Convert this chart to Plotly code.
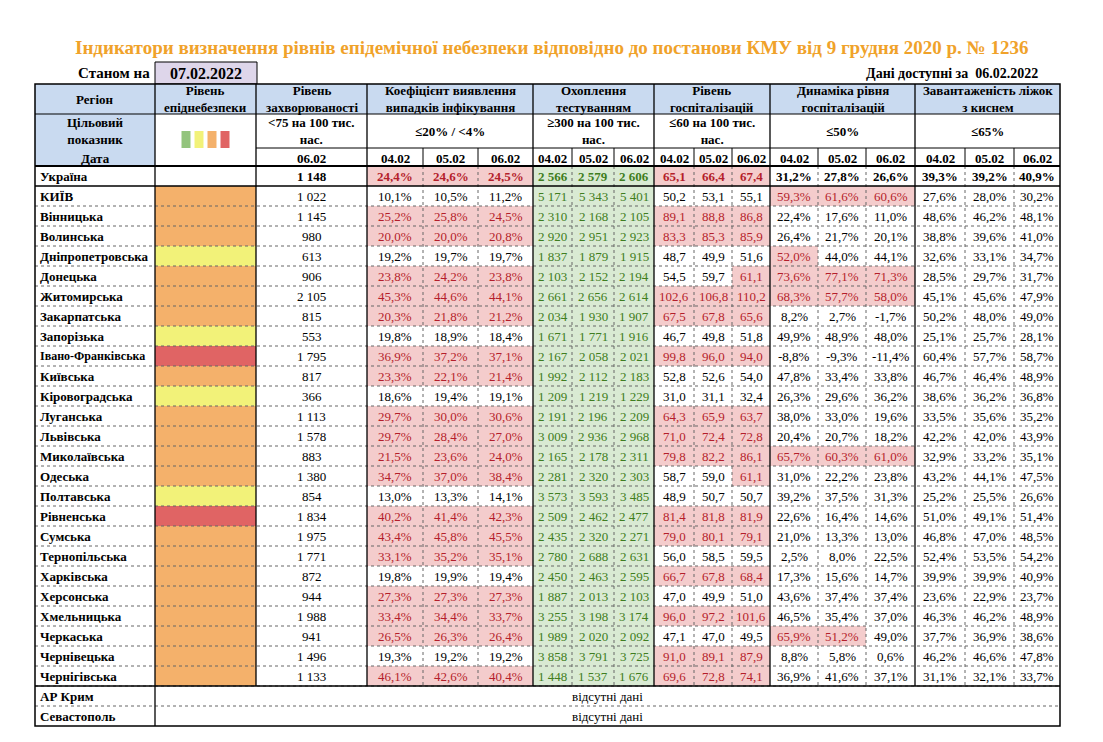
import plotly.graph_objects as go

# ---------------- DATA ----------------
regions = ["Україна", "КИЇВ", "Вінницька", "Волинська", "Дніпропетровська", "Донецька",
           "Житомирська", "Закарпатська", "Запорізька", "Івано-Франківська", "Київська",
           "Кіровоградська", "Луганська", "Львівська", "Миколаївська", "Одеська",
           "Полтавська", "Рівненська", "Сумська", "Тернопільська", "Харківська",
           "Херсонська", "Хмельницька", "Черкаська", "Чернівецька", "Чернігівська"]
danger_level = ["", "orange", "orange", "orange", "yellow", "orange", "orange", "orange",
                "yellow", "red", "orange", "yellow", "orange", "orange", "orange", "orange",
                "yellow", "red", "orange", "orange", "orange", "orange", "orange", "orange",
                "orange", "orange"]
incidence_0602 = [1148, 1022, 1145, 980, 613, 906, 2105, 815, 553, 1795, 817, 366, 1113,
                  1578, 883, 1380, 854, 1834, 1975, 1771, 872, 944, 1988, 941, 1496, 1133]
coef_0402 = [24.4, 10.1, 25.2, 20.0, 19.2, 23.8, 45.3, 20.3, 19.8, 36.9, 23.3, 18.6, 29.7,
             29.7, 21.5, 34.7, 13.0, 40.2, 43.4, 33.1, 19.8, 27.3, 33.4, 26.5, 19.3, 46.1]
coef_0502 = [24.6, 10.5, 25.8, 20.0, 19.7, 24.2, 44.6, 21.8, 18.9, 37.2, 22.1, 19.4, 30.0,
             28.4, 23.6, 37.0, 13.3, 41.4, 45.8, 35.2, 19.9, 27.3, 34.4, 26.3, 19.2, 42.6]
coef_0602 = [24.5, 11.2, 24.5, 20.8, 19.7, 23.8, 44.1, 21.2, 18.4, 37.1, 21.4, 19.1, 30.6,
             27.0, 24.0, 38.4, 14.1, 42.3, 45.5, 35.1, 19.4, 27.3, 33.7, 26.4, 19.2, 40.4]
tests_0402 = [2566, 5171, 2310, 2920, 1837, 2103, 2661, 2034, 1671, 2167, 1992, 1209, 2191,
              3009, 2165, 2281, 3573, 2509, 2435, 2780, 2450, 1887, 3255, 1989, 3858, 1448]
tests_0502 = [2579, 5343, 2168, 2951, 1879, 2152, 2656, 1930, 1771, 2058, 2112, 1219, 2196,
              2936, 2178, 2320, 3593, 2462, 2320, 2688, 2463, 2013, 3198, 2020, 3791, 1537]
tests_0602 = [2606, 5401, 2105, 2923, 1915, 2194, 2614, 1907, 1916, 2021, 2183, 1229, 2209,
              2968, 2311, 2303, 3485, 2477, 2271, 2631, 2595, 2103, 3174, 2092, 3725, 1676]
hosp_0402 = [65.1, 50.2, 89.1, 83.3, 48.7, 54.5, 102.6, 67.5, 46.7, 99.8, 52.8, 31.0, 64.3,
             71.0, 79.8, 58.7, 48.9, 81.4, 79.0, 56.0, 66.7, 47.0, 96.0, 47.1, 91.0, 69.6]
hosp_0502 = [66.4, 53.1, 88.8, 85.3, 49.9, 59.7, 106.8, 67.8, 49.8, 96.0, 52.6, 31.1, 65.9,
             72.4, 82.2, 59.0, 50.7, 81.8, 80.1, 58.5, 67.8, 49.9, 97.2, 47.0, 89.1, 72.8]
hosp_0602 = [67.4, 55.1, 86.8, 85.9, 51.6, 61.1, 110.2, 65.6, 51.8, 94.0, 54.0, 32.4, 63.7,
             72.8, 86.1, 61.1, 50.7, 81.9, 79.1, 59.5, 68.4, 51.0, 101.6, 49.5, 87.9, 74.1]
dyn_0402 = [31.2, 59.3, 22.4, 26.4, 52.0, 73.6, 68.3, 8.2, 49.9, -8.8, 47.8, 26.3, 38.0,
            20.4, 65.7, 31.0, 39.2, 22.6, 21.0, 2.5, 17.3, 43.6, 46.5, 65.9, 8.8, 36.9]
dyn_0502 = [27.8, 61.6, 17.6, 21.7, 44.0, 77.1, 57.7, 2.7, 48.9, -9.3, 33.4, 29.6, 33.0,
            20.7, 60.3, 22.2, 37.5, 16.4, 13.3, 8.0, 15.6, 37.4, 35.4, 51.2, 5.8, 41.6]
dyn_0602 = [26.6, 60.6, 11.0, 20.1, 44.1, 71.3, 58.0, -1.7, 48.0, -11.4, 33.8, 36.2, 19.6,
            18.2, 61.0, 23.8, 31.3, 14.6, 13.0, 22.5, 14.7, 37.4, 37.0, 49.0, 0.6, 37.1]
beds_0402 = [39.3, 27.6, 48.6, 38.8, 32.6, 28.5, 45.1, 50.2, 25.1, 60.4, 46.7, 38.6, 33.5,
             42.2, 32.9, 43.2, 25.2, 51.0, 46.8, 52.4, 39.9, 23.6, 46.3, 37.7, 46.2, 31.1]
beds_0502 = [39.2, 28.0, 46.2, 39.6, 33.1, 29.7, 45.6, 48.0, 25.7, 57.7, 46.4, 36.2, 35.6,
             42.0, 33.2, 44.1, 25.5, 49.1, 47.0, 53.5, 39.9, 22.9, 46.2, 36.9, 46.6, 32.1]
beds_0602 = [40.9, 30.2, 48.1, 41.0, 34.7, 31.7, 47.9, 49.0, 28.1, 58.7, 48.9, 36.8, 35.2,
             43.9, 35.1, 47.5, 26.6, 51.4, 48.5, 54.2, 40.9, 23.7, 48.9, 38.6, 47.8, 33.7]
no_data_regions = ["АР Крим", "Севастополь"]
no_data_text = "відсутні дані"
dates3 = ["04.02", "05.02", "06.02"]
date_single = "06.02"
title_text = "Індикатори визначення рівнів епідемічної небезпеки відповідно до постанови КМУ від 9 грудня 2020 р. № 1236"
as_of_label = "Станом на"
as_of_date = "07.02.2022"
data_for = "Дані доступні за  06.02.2022"
group_headers = ["Коефіцієнт виявлення<br>випадків інфікування", "Охоплення<br>тестуванням",
                 "Рівень<br>госпіталізацій", "Динаміка рівня<br>госпіталізацій",
                 "Завантаженість ліжок<br>з киснем"]
group_targets = ["≤20% / <4%", "≥300 на 100 тис.<br>нас.", "≤60 на 100 тис.<br>нас.", "≤50%", "≤65%"]

# ---------------- STYLE / LAYOUT ----------------
FONT = "Liberation Serif"
W, H = 1103, 742
OFF = 8  # default body margin of the html page
EDGES = [35, 155, 256, 367, 423, 478, 533, 572, 614, 654, 694, 732, 770, 818, 866, 915, 965, 1014, 1060]
Y_TOP, Y_R1, Y_R2, Y_DATE = 84, 114, 148, 166
ROW_H = 20
LEVEL_COLORS = {"green": "#93C47D", "yellow": "#F2F279", "orange": "#F4B16B", "red": "#E06464"}
BLUE = "#C9DAF0"
PINK = "#F4CCCC"
RED_TXT = "#B41E2B"
GREEN_BG = "#D9EAD3"
GREEN_TXT = "#3F7D20"

shapes, anns = [], []


def rect(x0, y0, x1, y1, fill, line=None, lw=0):
    shapes.append(dict(type="rect", xref="x", yref="y", x0=x0, y0=y0, x1=x1, y1=y1,
                       fillcolor=fill, line=dict(width=lw, color=line or fill), layer="below"))


def hline(y, x0, x1, w=1, dash="solid", color="black"):
    shapes.append(dict(type="line", xref="x", yref="y", x0=x0, x1=x1, y0=y, y1=y,
                       line=dict(width=w, dash=dash, color=color)))


def vline(x, y0, y1, w=1, dash="solid", color="black"):
    shapes.append(dict(type="line", xref="x", yref="y", x0=x, x1=x, y0=y0, y1=y1,
                       line=dict(width=w, dash=dash, color=color)))


def txt(x, y, s, size=13, bold=False, color="black", anchor="center"):
    anns.append(dict(x=x, y=y, xref="x", yref="y", text=f"<b>{s}</b>" if bold else s,
                     showarrow=False, font=dict(family=FONT, size=size, color=color),
                     xanchor=anchor, yanchor="middle"))


def cx(i):
    return (EDGES[i] + EDGES[i + 1]) / 2


fmt_int = lambda v: f"{v:,}".replace(",", " ")
fmt_pct = lambda v: f"{v:.1f}".replace(".", ",") + "%"
fmt_dec = lambda v: f"{v:.1f}".replace(".", ",")

# title and header line
txt(W / 2, 47, title_text, size=19, bold=True, color="#F0A22A")
txt(152, 73, as_of_label, size=15, bold=True, anchor="right")
rect(155, 62, 257, Y_TOP, "#DED6EA", "black", 1)
txt(206, 73, as_of_date, size=16, bold=True)
txt(1040, 73, data_for, size=14, bold=True, anchor="right")

# header fills
rect(EDGES[0], Y_TOP, EDGES[-1], Y_R1, BLUE)
rect(EDGES[0], Y_R1, EDGES[1], Y_DATE, BLUE)
txt(cx(0), (Y_TOP + Y_R1) / 2, "Регіон", 13, True)
txt(cx(1), (Y_TOP + Y_R1) / 2, "Рівень<br>епіднебезпеки", 13, True)
txt(cx(2), (Y_TOP + Y_R1) / 2, "Рівень<br>захворюваності", 13, True)
for g in range(5):
    a, b = 3 + 3 * g, 6 + 3 * g
    xm = (EDGES[a] + EDGES[b]) / 2
    txt(xm, (Y_TOP + Y_R1) / 2, group_headers[g], 13, True)
    txt(xm, (Y_R1 + Y_R2) / 2, group_targets[g], 13, True)
    for d in range(3):
        txt(cx(a + d), (Y_R2 + Y_DATE) / 2 + 1, dates3[d], 13, True)
txt(cx(0), 131, "Цільовий<br>показник", 13, True)
txt(cx(0), 158, "Дата", 13, True)
txt(cx(2), (Y_R1 + Y_R2) / 2, "<75 на 100 тис.<br>нас.", 13, True)
txt(cx(2), (Y_R2 + Y_DATE) / 2 + 1, date_single, 13, True)
# legend squares
legend_order = ["green", "yellow", "orange", "red"]
sq_w, sq_gap = 9, 4
tot = 4 * sq_w + 3 * sq_gap
for i, c in enumerate(legend_order):
    x0 = cx(1) - tot / 2 + i * (sq_w + sq_gap)
    rect(x0, 131, x0 + sq_w, 148, LEVEL_COLORS[c])

# body
series = [coef_0402, coef_0502, coef_0602, tests_0402, tests_0502, tests_0602,
          hosp_0402, hosp_0502, hosp_0602, dyn_0402, dyn_0502, dyn_0602,
          beds_0402, beds_0502, beds_0602]
for k, reg in enumerate(regions):
    y0 = Y_DATE + k * ROW_H
    y1 = y0 + ROW_H
    ym = (y0 + y1) / 2
    bold = k == 0
    if danger_level[k]:
        rect(EDGES[1], y0, EDGES[2], y1, LEVEL_COLORS[danger_level[k]])
    rsize = 12 if len(reg) > 16 else 13
    txt(EDGES[0] + 3, ym, reg, rsize, True, anchor="left")
    txt(cx(2), ym, fmt_int(incidence_0602[k]), 13, bold)
    for j, s in enumerate(series):
        v = s[k]
        col = 3 + j
        grp = j // 3
        color = "black"
        if grp == 0:
            label = fmt_pct(v)
            bad = v >= 20
        elif grp == 1:
            label = fmt_int(v)
            bad = False
        elif grp == 2:
            label = fmt_dec(v)
            bad = v > 60
        elif grp == 3:
            label = fmt_pct(v)
            bad = v > 50
        else:
            label = fmt_pct(v)
            bad = v > 65
        if grp == 1:
            rect(EDGES[col], y0, EDGES[col + 1], y1, GREEN_BG)
            color = GREEN_TXT
        elif bad:
            rect(EDGES[col], y0, EDGES[col + 1], y1, PINK)
            color = RED_TXT
        txt(cx(col), ym + 0.5, label, 13, bold, color)

y_body_end = Y_DATE + len(regions) * ROW_H
for i, reg in enumerate(no_data_regions):
    y0 = y_body_end + i * ROW_H
    txt(EDGES[0] + 3, y0 + ROW_H / 2, reg, 13, True, anchor="left")
    txt((EDGES[1] + EDGES[-1]) / 2, y0 + ROW_H / 2, no_data_text, 13, False)
y_end = y_body_end + len(no_data_regions) * ROW_H

# grid lines
DOT = "#666666"
for k in range(1, len(regions)):
    hline(Y_DATE + (k + 1) * ROW_H, EDGES[0], EDGES[-1], 1, "dot", DOT)
hline(y_body_end + ROW_H, EDGES[0], EDGES[-1], 1, "dot", DOT)
# inner vertical dotted lines in body
for g in range(5):
    for d in (1, 2):
        vline(EDGES[3 + 3 * g + d], Y_DATE, y_body_end, 1, "dot", DOT)
# solid vertical lines
for i in [1]:
    vline(EDGES[i], Y_TOP, y_end, 1.3)
for i in [2, 3, 6, 9, 12, 15]:
    vline(EDGES[i], Y_TOP, y_body_end, 1.3)
for g in range(5):
    for d in (1, 2):
        vline(EDGES[3 + 3 * g + d], Y_R2, Y_DATE, 1)
hline(Y_R1, EDGES[0], EDGES[-1], 1)
hline(Y_R2, EDGES[2], EDGES[-1], 1)
hline(Y_DATE, EDGES[0], EDGES[-1], 2)
hline(Y_DATE + ROW_H, EDGES[0], EDGES[-1], 1.3)
hline(y_body_end, EDGES[0], EDGES[-1], 1.3)
# outer border
shapes.append(dict(type="rect", xref="x", yref="y", x0=EDGES[0], x1=EDGES[-1], y0=Y_TOP, y1=y_end,
                   line=dict(width=1.5, color="black"), fillcolor="rgba(0,0,0,0)"))

fig = go.Figure()
fig.update_layout(
    width=W - 2 * OFF, height=H - 2 * OFF,
    margin=dict(l=0, r=0, t=0, b=0),
    paper_bgcolor="white", plot_bgcolor="white",
    xaxis=dict(range=[OFF, W - OFF], visible=False, fixedrange=True),
    yaxis=dict(range=[H - OFF, OFF], visible=False, fixedrange=True),
    shapes=shapes, annotations=anns, showlegend=False,
)
fig.write_html("out.html")
